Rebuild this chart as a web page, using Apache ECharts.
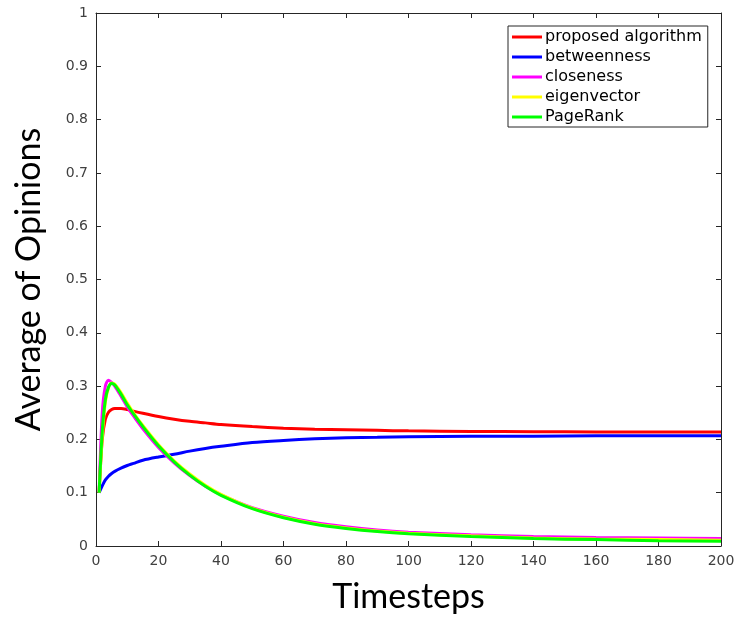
<!DOCTYPE html>
<html>
<head>
<meta charset="utf-8">
<script src="https://cdn.jsdelivr.net/npm/echarts@6/dist/echarts.min.js"></script>
<style>html,body{margin:0;padding:0;background:#fff}#c{width:750px;height:619px}</style>
</head>
<body>
<div id="c"></div>
<script>
const timesteps = [1,2,3,4,5,6,8,10,12,15,20,25,30,35,40,50,60,70,80,90,100,120,140,160,180,200];
const proposed  = [0.100,0.200,0.238,0.251,0.256,0.258,0.258,0.256,0.253,0.249,0.243,0.238,0.234,0.231,0.228,0.224,0.221,0.219,0.218,0.217,0.216,0.215,0.2145,0.214,0.214,0.214];
const betweenness = [0.100,0.113,0.124,0.131,0.136,0.140,0.146,0.151,0.155,0.161,0.167,0.172,0.178,0.183,0.187,0.194,0.198,0.201,0.203,0.204,0.205,0.206,0.206,0.207,0.207,0.207];
const closeness = [0.100,0.250,0.300,0.311,0.307,0.300,0.281,0.261,0.244,0.220,0.185,0.156,0.132,0.112,0.096,0.072,0.056,0.044,0.036,0.030,0.026,0.021,0.018,0.016,0.015,0.014];
const eigenvector = [0.100,0.205,0.270,0.297,0.306,0.304,0.288,0.268,0.250,0.226,0.190,0.160,0.135,0.114,0.097,0.071,0.054,0.042,0.034,0.028,0.024,0.019,0.015,0.013,0.012,0.011];
const pagerank = [0.100,0.215,0.275,0.298,0.305,0.302,0.285,0.265,0.248,0.224,0.188,0.158,0.133,0.112,0.095,0.070,0.053,0.041,0.033,0.027,0.023,0.018,0.014,0.012,0.010,0.009];
const seriesNames = ['proposed algorithm','betweenness','closeness','eigenvector','PageRank'];
const seriesColors = ['#ff0000','#0000ff','#ff00ff','#ffff00','#00ff00'];
const seriesValues = [proposed, betweenness, closeness, eigenvector, pagerank];

const chart = echarts.init(document.getElementById('c'));
const axisLineStyle = {color:'#262626', width:1};
const tickLabel = {color:'#404040', fontFamily:'DejaVu Sans', fontSize:14};
chart.setOption({
  animation:false,
  backgroundColor:'#ffffff',
  grid:{left:96, top:13, right:29, bottom:73, containLabel:false, outerBoundsMode:'none'},
  legend:{
    orient:'vertical', left:508, top:26,
    padding:[3,6,2,4],
    itemWidth:30, itemHeight:14, itemGap:4,
    borderColor:'#262626', borderWidth:1, backgroundColor:'#fff',
    textStyle:{fontFamily:'DejaVu Sans', fontSize:16, color:'#000', padding:[0,0,0,-2]},
    data:seriesNames.map(n=>({name:n, icon:'path://M0,0L30,0L30,3L0,3Z'}))
  },
  xAxis:[{
    type:'value', min:0, max:200, interval:20,
    name:'Timesteps', nameLocation:'middle', nameGap:34,
    nameTextStyle:{fontFamily:'Lato', fontSize:34, color:'#000'},
    axisLine:{show:true, onZero:false, lineStyle:axisLineStyle},
    axisTick:{show:true, inside:true, length:5, lineStyle:axisLineStyle},
    axisLabel:Object.assign({margin:8}, tickLabel),
    splitLine:{show:false}
  },{
    type:'value', min:0, max:200, interval:20, position:'top',
    axisLine:{show:true, onZero:false, lineStyle:axisLineStyle},
    axisTick:{show:true, inside:true, length:5, lineStyle:axisLineStyle},
    axisLabel:{show:false}, splitLine:{show:false}
  }],
  yAxis:[{
    type:'value', min:0, max:1, interval:0.1,
    name:'Average of Opinions', nameLocation:'middle', nameGap:50,
    nameTextStyle:{fontFamily:'Lato', fontSize:34, color:'#000'},
    axisLine:{show:true, onZero:false, lineStyle:axisLineStyle},
    axisTick:{show:true, inside:true, length:5, lineStyle:axisLineStyle},
    axisLabel:Object.assign({margin:8, formatter:v=>String(+v.toFixed(1))}, tickLabel),
    splitLine:{show:false}
  },{
    type:'value', min:0, max:1, interval:0.1, position:'right',
    axisLine:{show:true, onZero:false, lineStyle:axisLineStyle},
    axisTick:{show:true, inside:true, length:5, lineStyle:axisLineStyle},
    axisLabel:{show:false}, splitLine:{show:false}
  }],
  series:seriesNames.map((n,i)=>({
    name:n, type:'line', xAxisIndex:0, yAxisIndex:0,
    data:timesteps.map((t,j)=>[t, seriesValues[i][j]]),
    smooth:0.3, symbol:'none', showSymbol:false,
    lineStyle:{color:seriesColors[i], width:3},
    itemStyle:{color:seriesColors[i]}
  }))
});
</script>
</body>
</html>
